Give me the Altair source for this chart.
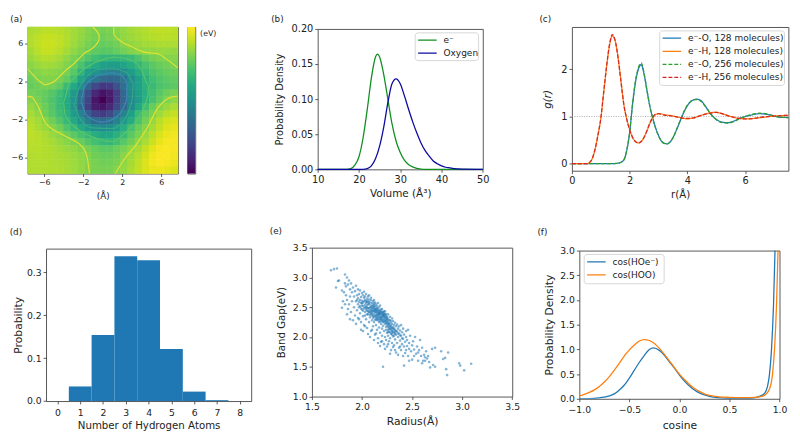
import altair as alt
import pandas as pd

FONT = "DejaVu Sans"
TXT = "#222222"

# (a) potential map, read from the colour field (rows top to bottom, columns left to right)
map_x = [-7.35, -6.62, -5.88, -5.15, -4.41, -3.68, -2.94, -2.21, -1.47, -0.74, 0, 0.74, 1.47, 2.21, 2.94, 3.68, 4.41, 5.15, 5.88, 6.62, 7.35]
map_y = [7.35, 6.62, 5.88, 5.15, 4.41, 3.68, 2.94, 2.21, 1.47, 0.74, 0, -0.74, -1.47, -2.21, -2.94, -3.68, -4.41, -5.15, -5.88, -6.62, -7.35]
map_rows = [
    [.22, .26, .30, .30, .28, .24, .18, .12, .04, -.02, -.05, -.02, .05, .12, .18, .22, .26, .30, .32, .32, .30],
    [.26, .32, .36, .36, .32, .26, .18, .10, .02, -.04, -.08, -.05, .02, .10, .15, .20, .24, .27, .29, .30, .28],
    [.25, .33, .38, .38, .33, .25, .15, .06, -.03, -.10, -.14, -.12, -.06, .03, .10, .14, .18, .20, .22, .23, .22],
    [.20, .30, .36, .35, .28, .20, .09, .00, -.10, -.18, -.22, -.20, -.14, -.06, .02, .06, .08, .10, .12, .12, .11],
    [.14, .22, .27, .26, .19, .09, -.02, -.14, -.26, -.37, -.47, -.50, -.50, -.46, -.42, -.28, -.13, -.05, -.01, .02, .04],
    [.06, .14, .18, .17, .11, .02, -.11, -.30, -.52, -.65, -.78, -.86, -.84, -.74, -.62, -.48, -.32, -.20, -.13, -.07, -.02],
    [-.02, .04, .08, .07, .03, -.05, -.22, -.52, -.80, -.98, -1.12, -1.22, -1.24, -1.08, -.86, -.62, -.42, -.28, -.20, -.14, -.10],
    [-.10, -.03, .02, .02, -.04, -.15, -.40, -.73, -1.10, -1.38, -1.55, -1.60, -1.55, -1.38, -1.08, -.78, -.55, -.37, -.27, -.20, -.16],
    [-.15, -.08, -.04, -.06, -.16, -.42, -.68, -1.05, -1.60, -1.95, -2.15, -2.10, -1.85, -1.45, -1.08, -.80, -.57, -.42, -.30, -.24, -.20],
    [-.06, -.10, -.15, -.23, -.38, -.58, -.88, -1.40, -1.90, -2.32, -2.52, -2.42, -2.08, -1.58, -1.12, -.82, -.60, -.38, -.22, -.10, -.03],
    [.03, -.04, -.16, -.28, -.44, -.64, -.95, -1.47, -2.02, -2.50, -2.68, -2.48, -2.05, -1.62, -1.15, -.85, -.58, -.33, -.15, .01, .08],
    [.12, .02, -.10, -.25, -.43, -.65, -.98, -1.55, -2.05, -2.42, -2.50, -2.32, -1.95, -1.55, -1.10, -.70, -.38, -.12, .03, .14, .22],
    [.20, .10, -.08, -.22, -.38, -.58, -.85, -1.22, -1.70, -2.00, -2.10, -1.95, -1.58, -1.20, -.80, -.42, -.18, -.02, .16, .28, .36],
    [.27, .18, .05, -.08, -.25, -.45, -.68, -1.00, -1.25, -1.50, -1.55, -1.45, -1.22, -.90, -.63, -.30, -.06, .12, .30, .42, .46],
    [.30, .22, .14, .03, -.08, -.27, -.46, -.68, -.87, -1.03, -1.10, -1.03, -.85, -.60, -.35, -.12, .03, .20, .36, .48, .52],
    [.32, .28, .22, .13, .05, -.07, -.20, -.33, -.45, -.62, -.70, -.70, -.58, -.42, -.20, -.03, .13, .30, .45, .55, .58],
    [.30, .28, .25, .20, .12, .05, -.03, -.13, -.25, -.35, -.45, -.48, -.37, -.22, -.08, .06, .22, .38, .52, .60, .60],
    [.28, .28, .26, .23, .18, .13, .09, .02, -.05, -.14, -.20, -.20, -.12, -.03, .08, .20, .36, .50, .60, .62, .60],
    [.26, .27, .26, .24, .21, .18, .14, .08, .02, -.08, -.12, -.12, -.06, .05, .16, .28, .43, .56, .62, .62, .58],
    [.25, .26, .25, .24, .22, .20, .16, .10, .03, -.04, -.08, -.07, -.02, .08, .20, .33, .47, .58, .62, .60, .55],
    [.24, .25, .24, .24, .23, .20, .16, .10, .02, -.03, -.05, -.04, .03, .12, .22, .35, .46, .54, .55, .52, .46],
]

# (a) contour traces
cont_top_left = [(-1.03, 7.7), (-.37, 6.85), (-.37, 6.4), (-.87, 5.65), (-1.87, 4.97), (-2.87, 3.94), (-3.87, 3.08), (-5.03, 1.95), (-5.87, 1.64), (-6.53, 2.05), (-7.2, 2.74), (-7.7, 3.32)]
cont_top_right = [(1.13, 7.7), (1.13, 7.02), (1.8, 6.27), (2.97, 5.65), (4.3, 5.07), (5.63, 4.9), (6.63, 4.28), (7.7, 3.42)]
cont_bot_left = [(-7.7, .41), (-7.3, .34), (-6.7, -.51), (-5.87, -2.4), (-4.7, -3.32), (-3.2, -4.11), (-2.03, -4.97), (-1.6, -6.0), (-1.37, -7.7)]
cont_bot_right = [(1.3, -7.7), (2.13, -6.34), (3.47, -4.62), (4.47, -3.08), (5.63, -.86), (6.8, .24), (7.7, .45)]
cont_outer = [(1.13, 4.55), (-.03, 4.28), (-1.2, 3.77), (-2.53, 2.74), (-3.53, 1.54), (-4.03, -.17), (-3.87, -1.54), (-2.53, -3.08), (-.7, -4.0), (.97, -4.35), (2.3, -3.42), (3.63, -1.88), (4.63, .51), (4.7, 1.54), (3.97, 3.25), (2.8, 4.28), (1.13, 4.55)]
cont_mid = [(1.13, 3.32), (-.37, 3.25), (-1.7, 2.4), (-2.53, 1.03), (-2.97, -.51), (-2.37, -1.88), (-1.03, -2.91), (.97, -2.98), (2.3, -1.88), (3.03, .17), (3.13, 1.88), (2.47, 2.91), (1.13, 3.32)]
cont_inner = [(.97, 2.9), (-.7, 2.5), (-1.87, 1.37), (-2.27, -.17), (-1.7, -1.54), (-.03, -2.3), (1.47, -1.71), (2.47, .17), (2.47, 1.7), (1.97, 2.57), (.97, 2.9)]

# (a) colour bar
cbar_ticks = [-2.5, -2.0, -1.5, -1.0, -0.5, 0.0]
viridis_stops = ["#440154", "#482475", "#414487", "#355f8d", "#2a788e", "#21918c", "#22a884", "#44bf70", "#7ad151", "#bddf26", "#fde725"]

# (b)
vol_e_x = [10, 17, 18, 19, 20, 21, 22, 23, 24, 24.5, 25, 26, 27, 28, 29, 30, 31, 32, 33, 34, 35, 36, 50]
vol_e_y = [0, 0, .001, .006, .018, .045, .085, .13, .16, .164, .16, .135, .10, .065, .04, .024, .013, .007, .0035, .0015, .0005, 0, 0]
vol_o_x = [10, 21, 22, 23, 24, 25, 26, 27, 28, 29, 30, 31, 32, 33, 34, 35, 36, 37, 38, 39, 40, 41, 42, 43, 45, 50]
vol_o_y = [0, 0, .001, .005, .015, .033, .06, .095, .122, .129, .122, .105, .086, .068, .052, .038, .027, .019, .012, .008, .005, .003, .002, .001, .0003, 0]
vol_names = ["e⁻", "Oxygen"]
vol_colors = ["#0f8f1f", "#0a0aa0"]

# (c)
rdf_o_r = [0, 1.4, 1.6, 1.7, 1.8, 1.9, 2.0, 2.1, 2.2, 2.3, 2.4, 2.5, 2.6, 2.7, 2.8, 2.9, 3.0, 3.1, 3.2, 3.3, 3.4, 3.5, 3.6, 3.7, 3.8, 3.9, 4.0, 4.1, 4.2, 4.3, 4.4, 4.5, 4.6, 4.7, 4.8, 4.9, 5.0, 5.2, 5.4, 5.6, 5.8, 6.0, 6.2, 6.5, 6.8, 7.0, 7.3, 7.5]
rdf_o_128 = [0, 0, .01, .03, .08, .28, .66, 1.25, 1.72, 2.0, 2.10, 1.9, 1.55, 1.22, .97, .76, .6, .48, .43, .42, .46, .55, .68, .83, .98, 1.12, 1.23, 1.31, 1.35, 1.37, 1.36, 1.32, 1.24, 1.15, 1.06, .99, .94, .88, .87, .9, .96, 1.0, 1.03, 1.06, 1.04, 1.01, .98, .98]
rdf_o_256 = [0, 0, .01, .03, .08, .29, .67, 1.27, 1.75, 2.03, 2.14, 1.92, 1.56, 1.22, .96, .75, .59, .48, .43, .42, .46, .55, .69, .84, .99, 1.13, 1.24, 1.31, 1.35, 1.36, 1.35, 1.31, 1.23, 1.15, 1.06, .99, .93, .87, .86, .89, .95, 1.0, 1.04, 1.07, 1.05, 1.01, .98, .97]
rdf_h_r = [0, .5, .6, .7, .8, .9, 1.0, 1.1, 1.2, 1.3, 1.4, 1.5, 1.6, 1.7, 1.8, 1.9, 2.0, 2.1, 2.2, 2.3, 2.4, 2.5, 2.6, 2.7, 2.8, 2.9, 3.0, 3.2, 3.5, 3.8, 4.0, 4.2, 4.5, 4.8, 5.0, 5.2, 5.5, 5.8, 6.0, 6.3, 6.6, 7.0, 7.5]
rdf_h_128 = [0, 0, .02, .1, .3, .6, .95, 1.5, 2.05, 2.5, 2.71, 2.6, 2.25, 1.75, 1.25, .95, .72, .56, .47, .44, .47, .56, .7, .85, .98, 1.04, 1.06, 1.04, 1.01, .97, .95, .97, 1.03, 1.08, 1.09, 1.06, 1.0, .96, .95, .96, .98, 1.01, 1.02]
rdf_h_256 = [0, 0, .02, .1, .3, .6, .96, 1.51, 2.06, 2.52, 2.74, 2.61, 2.24, 1.74, 1.25, .94, .72, .56, .47, .44, .47, .56, .7, .86, .98, 1.05, 1.06, 1.03, 1.01, .97, .96, .97, 1.03, 1.07, 1.09, 1.06, 1.0, .96, .95, .96, .99, 1.01, 1.03]
rdf_names = ["e⁻-O, 128 molecules)", "e⁻-H, 128 molecules)", "e⁻-O, 256 molecules)", "e⁻-H, 256 molecules)"]
rdf_colors = ["#1f77b4", "#ff7f0e", "#2ca02c", "#d62728"]
rdf_dash = [[1, 0], [1, 0], [4, 2], [4, 2]]

# (d)
h_counts = [0, 1, 2, 3, 4, 5, 6, 7, 8]
h_probs = [0, .034, .154, .337, .328, .121, .022, .002, 0]

# (e)
scatter_points = [
    (1.69, 3.12), (1.72, 3.14), (1.75, 3.15), (1.74, 2.83), (1.76, 2.94), (1.77, 2.95), (1.83, 3.05), (1.85, 3.0), (1.80, 2.78), (1.81, 2.6),
    (1.80, 2.49), (1.82, 2.75), (1.83, 2.9), (1.84, 2.85), (1.85, 2.62), (1.86, 2.47), (1.84, 2.7), (1.87, 2.95), (1.88, 2.8), (1.86, 2.88),
    (1.87, 2.55), (1.88, 2.68), (1.83, 2.55), (1.89, 2.42), (1.89, 2.9), (1.90, 2.75), (1.90, 2.6), (1.91, 2.83), (1.92, 2.5), (1.92, 2.68),
    (1.93, 2.77), (1.93, 2.36), (1.94, 2.86), (1.94, 2.6), (1.95, 2.7), (1.95, 2.45), (1.96, 2.55), (1.96, 2.8), (1.96, 2.65), (1.97, 2.3),
    (1.97, 2.72), (1.97, 2.5), (1.98, 2.62), (1.98, 2.4), (1.98, 2.78), (1.99, 2.57), (1.99, 2.67), (1.99, 2.25), (2.00, 2.74), (2.00, 2.46),
    (2.00, 2.61), (2.00, 2.53), (2.01, 2.7), (2.01, 2.35), (2.01, 2.58), (2.02, 2.66), (2.02, 2.48), (2.02, 2.2), (2.02, 2.76), (2.03, 2.54),
    (2.03, 2.62), (2.03, 2.42), (2.03, 2.68), (2.04, 2.3), (2.04, 2.57), (2.04, 2.5), (2.04, 2.72), (2.05, 2.64), (2.05, 2.44), (2.05, 2.15),
    (2.05, 2.59), (2.05, 2.53), (2.06, 2.68), (2.06, 2.38), (2.06, 2.48), (2.06, 2.6), (2.07, 2.55), (2.07, 2.25), (2.07, 2.63), (2.07, 2.42),
    (2.07, 2.7), (2.08, 2.5), (2.08, 2.58), (2.08, 2.33), (2.08, 2.45), (2.09, 2.62), (2.09, 2.53), (2.09, 2.1), (2.09, 2.4), (2.09, 2.66),
    (2.10, 2.47), (2.10, 2.57), (2.10, 2.28), (2.10, 2.36), (2.10, 2.51), (2.11, 2.6), (2.11, 2.43), (2.11, 2.18), (2.11, 2.54), (2.11, 2.32),
    (2.12, 2.49), (2.12, 2.56), (2.12, 2.39), (2.12, 2.62), (2.12, 2.25), (2.13, 2.45), (2.13, 2.52), (2.13, 2.04), (2.13, 2.35), (2.13, 2.58),
    (2.14, 2.41), (2.14, 2.48), (2.14, 2.3), (2.14, 2.55), (2.14, 2.2), (2.15, 2.44), (2.15, 2.37), (2.15, 2.52), (2.15, 2.12), (2.15, 2.28),
    (2.16, 2.47), (2.16, 2.4), (2.16, 2.33), (2.16, 2.57), (2.16, 1.98), (2.17, 2.43), (2.17, 2.5), (2.17, 2.25), (2.17, 2.36), (2.17, 2.16),
    (2.18, 2.3), (2.18, 2.45), (2.18, 2.39), (2.18, 2.07), (2.18, 2.53), (2.19, 2.34), (2.19, 2.42), (2.19, 2.22), (2.19, 1.92), (2.19, 2.28),
    (2.20, 2.38), (2.20, 2.47), (2.20, 2.14), (2.20, 2.31), (2.20, 2.02), (2.21, 2.35), (2.21, 2.42), (2.21, 2.25), (2.21, 1.5), (2.21, 2.19),
    (2.22, 2.29), (2.22, 2.39), (2.22, 2.1), (2.22, 2.33), (2.22, 1.88), (2.23, 2.22), (2.23, 2.43), (2.23, 2.27), (2.23, 2.0), (2.23, 2.35),
    (2.24, 2.17), (2.24, 2.31), (2.24, 2.38), (2.24, 1.95), (2.24, 2.24), (2.25, 2.07), (2.25, 2.28), (2.25, 2.34), (2.25, 2.2), (2.25, 1.84),
    (2.26, 2.12), (2.26, 2.25), (2.26, 2.31), (2.26, 2.02), (2.26, 2.38), (2.27, 2.18), (2.27, 2.28), (2.27, 1.93), (2.27, 2.09), (2.28, 2.23),
    (2.28, 2.34), (2.28, 2.14), (2.28, 1.98), (2.29, 2.05), (2.29, 2.26), (2.29, 2.19), (2.29, 1.78), (2.30, 2.1), (2.30, 2.31), (2.30, 2.22),
    (2.30, 1.9), (2.31, 2.16), (2.31, 2.01), (2.31, 2.27), (2.32, 2.07), (2.32, 2.2), (2.32, 1.86), (2.33, 2.12), (2.33, 2.24), (2.33, 1.96),
    (2.34, 2.04), (2.34, 2.18), (2.34, 1.74), (2.35, 2.09), (2.35, 2.21), (2.35, 1.9), (2.36, 2.14), (2.36, 2.0), (2.37, 2.18), (2.37, 1.82),
    (2.37, 2.06), (2.38, 1.94), (2.38, 2.11), (2.39, 2.02), (2.39, 2.2), (2.39, 1.78), (2.40, 1.88), (2.40, 2.08), (2.41, 1.97), (2.41, 2.14),
    (2.42, 1.52), (2.42, 1.84), (2.42, 2.04), (2.43, 1.92), (2.43, 1.73), (2.44, 2.0), (2.44, 2.1), (2.45, 1.85), (2.45, 1.95), (2.46, 2.12),
    (2.46, 1.68), (2.47, 1.8), (2.47, 1.9), (2.48, 2.02), (2.49, 1.76), (2.50, 1.86), (2.50, 1.62), (2.51, 1.93), (2.52, 1.79), (2.53, 2.0),
    (2.54, 1.72), (2.55, 1.84), (2.56, 1.6), (2.57, 1.78), (2.58, 1.95), (2.59, 1.68), (2.60, 1.82), (2.61, 1.6), (2.62, 1.7), (2.63, 1.66),
    (2.64, 1.76), (2.65, 1.64), (2.66, 1.68), (2.67, 1.58), (2.68, 1.49), (2.70, 1.8), (2.71, 1.53), (2.73, 1.82), (2.73, 1.5), (2.79, 1.76),
    (2.81, 1.63), (2.83, 1.65), (2.84, 1.46), (2.85, 1.36), (2.86, 1.74), (2.97, 1.56), (2.98, 1.52), (3.02, 1.44), (3.09, 1.55),
    (1.98, 2.52), (2.02, 2.6), (2.04, 2.46), (2.05, 2.38), (2.06, 2.55), (2.08, 2.41), (2.10, 2.43), (2.11, 2.5), (2.12, 2.34), (2.13, 2.47),
    (2.14, 2.37), (2.15, 2.48), (2.16, 2.29), (2.17, 2.4), (2.18, 2.34), (2.19, 2.46), (2.20, 2.27), (2.21, 2.37), (2.22, 2.43), (2.23, 2.31),
    (2.24, 2.27), (2.25, 2.24), (2.26, 2.17), (2.27, 2.22), (2.28, 2.08), (2.29, 2.12), (2.30, 2.16), (2.31, 2.09), (2.32, 2.14), (2.33, 2.05),
    (1.95, 2.62), (1.97, 2.59), (1.99, 2.48), (2.01, 2.52), (2.03, 2.36), (2.07, 2.48), (2.09, 2.44), (2.12, 2.44), (2.15, 2.32), (2.18, 2.26),
    (2.20, 2.42), (2.22, 2.36), (2.24, 2.12), (2.26, 2.08), (2.28, 2.28), (2.30, 2.04), (2.34, 2.1), (2.36, 2.06), (2.38, 2.03), (2.40, 1.98),
    (1.85, 2.38), (1.88, 2.3), (1.91, 2.28), (1.94, 2.22), (1.96, 2.32), (1.99, 2.12), (2.01, 2.1), (2.03, 2.18), (2.06, 2.05), (2.08, 2.0),
    (2.10, 2.12), (2.12, 1.95), (2.14, 2.06), (2.16, 1.9), (2.18, 1.85), (2.20, 1.93), (2.23, 1.8), (2.26, 1.88), (2.28, 1.72), (2.31, 1.83),
    (2.33, 1.78), (2.36, 1.7), (2.38, 1.84), (2.41, 1.68), (2.44, 1.78), (2.47, 1.6), (2.52, 1.68), (2.56, 1.74), (2.60, 1.56), (2.63, 1.6),
    (2.00, 2.57), (2.01, 2.44), (2.03, 2.5), (2.04, 2.6), (2.05, 2.49), (2.06, 2.43), (2.07, 2.58), (2.08, 2.37), (2.09, 2.49), (2.10, 2.39),
    (2.11, 2.46), (2.11, 2.36), (2.12, 2.52), (2.13, 2.42), (2.13, 2.29), (2.14, 2.45), (2.14, 2.34), (2.15, 2.41), (2.16, 2.36), (2.16, 2.44),
    (2.17, 2.31), (2.17, 2.39), (2.18, 2.42), (2.19, 2.38), (2.19, 2.31), (2.20, 2.34), (2.21, 2.29), (2.21, 2.4), (2.22, 2.25), (2.23, 2.38),
    (2.24, 2.34), (2.25, 2.3), (2.26, 2.22), (2.27, 2.14), (2.28, 2.19), (2.29, 2.15), (2.30, 2.07), (2.31, 2.13), (2.32, 2.02), (2.33, 2.09),
]

# (f)
cos_x_e = [-1, -.9, -.8, -.7, -.65, -.6, -.55, -.5, -.45, -.4, -.35, -.3, -.26, -.2, -.15, -.1, -.05, 0, .05, .1, .15, .2, .25, .3, .4, .5, .6, .7, .75, .8, .85, .88, .9, .92, .94, .955, .97]
cos_y_e = [0, .002, .02, .06, .1, .18, .28, .42, .58, .74, .88, 1.0, 1.03, .98, .88, .75, .62, .48, .36, .26, .18, .12, .08, .05, .02, .008, .005, .01, .02, .05, .11, .25, .5, 1.0, 1.9, 3.0, 4.5]
cos_x_o = [-1, -.95, -.9, -.85, -.8, -.75, -.7, -.65, -.6, -.55, -.5, -.45, -.4, -.35, -.3, -.25, -.2, -.15, -.1, -.05, 0, .05, .1, .15, .2, .25, .3, .4, .5, .6, .7, .8, .85, .9, .93, .95, .97, .985, .995]
cos_y_o = [.06, .09, .13, .18, .25, .34, .45, .58, .72, .87, .99, 1.09, 1.17, 1.2, 1.18, 1.12, 1.02, .9, .77, .63, .5, .39, .29, .21, .15, .1, .07, .04, .03, .025, .025, .04, .07, .2, .5, 1.0, 1.9, 3.0, 4.0]
cos_names = ["cos(HOe⁻)", "cos(HOO)"]
cos_colors = ["#1f77b4", "#ff7f0e"]

one = pd.DataFrame({"a": [0]})


def ax(title=None, values=None, fmt=None, size=10, **kw):
    opts = dict(title=title, labelFontSize=size, tickSize=3, tickWidth=0.8, tickColor="#333333",
                labelColor=TXT, titleColor=TXT, labelPadding=2, grid=False, domain=False,
                labelFont=FONT, titleFont=FONT, titleFontWeight="normal", labelFlush=False, labelOverlap=False)
    if values is not None:
        opts["values"] = values
    if fmt is not None:
        opts["format"] = fmt
    opts.update(kw)
    return alt.Axis(**opts)


def lab(text, dx, offset):
    return alt.TitleParams(text=text, anchor="start", frame="group", dx=dx, offset=offset, fontSize=9, font=FONT,
                           fontWeight="normal", color=TXT)


def key_box(x, y, w, h, names, colors, dashes=None, line=19, gap=7, row0=7.5, step=13.4, sw=1.3, size=9.2):
    """A matplotlib-like legend box inside a panel."""
    out = [alt.Chart(one).mark_rect(fill="white", stroke="#cccccc", strokeWidth=0.8, cornerRadius=3).encode(
        x=alt.value(x), x2=alt.value(x + w), y=alt.value(y), y2=alt.value(y + h))]
    for i, name in enumerate(names):
        yy = y + row0 + step * i
        dash = dashes[i] if dashes else [1, 0]
        out.append(alt.Chart(one).mark_rule(color=colors[i], strokeWidth=sw, strokeDash=dash).encode(
            x=alt.value(x + 3), x2=alt.value(x + 3 + line), y=alt.value(yy)))
        out.append(alt.Chart(one).mark_text(text=name, fontSize=size, font=FONT, color=TXT, align="left", baseline="middle").encode(
            x=alt.value(x + 3 + line + gap), y=alt.value(yy)))
    return out


# --- (a)
map_df = pd.DataFrame(
    [{"x": x, "y": y, "v": v} for y, row in zip(map_y, map_rows) for x, v in zip(map_x, row)]
)
CELL = 0.3675
hm = alt.Chart(map_df).transform_calculate(
    x0=f"datum.x-{CELL}", x1=f"datum.x+{CELL}", y0=f"datum.y-{CELL}", y1=f"datum.y+{CELL}"
).mark_rect(strokeWidth=0.6).encode(
    x=alt.X("x0:Q", scale=alt.Scale(domain=[-7.72, 7.72], nice=False, zero=False),
            axis=ax("(Å)", [-6, -4, -2, 0, 2, 4, 6], "d", 8, titlePadding=5.5, titleFontSize=9)),
    x2="x1:Q",
    y=alt.Y("y0:Q", scale=alt.Scale(domain=[-7.72, 7.72], nice=False, zero=False),
            axis=ax(None, [-6, -4, -2, 0, 2, 4, 6], "d", 8)),
    y2="y1:Q",
    color=alt.Color("v:Q", scale=alt.Scale(scheme="viridis", domain=[-2.68, 0.64]), legend=None),
    stroke=alt.Stroke("v:Q", scale=alt.Scale(scheme="viridis", domain=[-2.68, 0.64]), legend=None),
)
cont_rows = []
for name, col, pts in [("a", "#e6e230", cont_top_left), ("b", "#e6e230", cont_top_right), ("c", "#e6e230", cont_bot_left),
                       ("d", "#e6e230", cont_bot_right), ("e", "#5cc468", cont_outer), ("f", "#35a888", cont_mid),
                       ("g", "#3f88bb", cont_inner)]:
    for i, (px, py) in enumerate(pts):
        cont_rows.append({"x": px, "y": py, "piece": name, "i": i, "col": col})
cont = alt.Chart(pd.DataFrame(cont_rows)).mark_line(interpolate="monotone", strokeWidth=1.1).encode(
    x=alt.X("x:Q"),
    y=alt.Y("y:Q"),
    detail="piece:N",
    order="i:Q",
    stroke=alt.Stroke("col:N", scale=None, legend=None),
)
panel_a = alt.layer(hm, cont).resolve_scale(stroke="independent").properties(
    width=154.3, height=150.3, title=lab("(a)", -17.7, 1.4))

# colour bar
cbar_scale = alt.Scale(domain=[-2.68, 0.64], nice=False, zero=False)
cbar_df = pd.DataFrame({"lo": [-2.68], "hi": [0.64]})
stops = [alt.GradientStop(offset=i / (len(viridis_stops) - 1), color=c) for i, c in enumerate(viridis_stops)]
cbar_rect = alt.Chart(cbar_df).mark_rect(
    color=alt.LinearGradient(gradient="linear", stops=stops, x1=0, x2=0, y1=1, y2=0)
).encode(
    y=alt.Y("lo:Q", scale=cbar_scale,
            axis=ax(None, cbar_ticks, ".1f", 8, orient="right")),
    y2="hi:Q",
)
cbar_txt = alt.Chart(pd.DataFrame({"t": ["(eV)"], "v": [0.49]})).mark_text(
    align="left", baseline="middle", fontSize=8, font=FONT, color=TXT, clip=False, dx=13
).encode(y=alt.Y("v:Q", scale=cbar_scale, axis=None), x=alt.value(0), text="t:N")
cbar = alt.layer(cbar_rect, cbar_txt).properties(width=8, height=150.3)

# --- (b)
vol_df = pd.concat([
    pd.DataFrame({"v": vol_e_x, "p": vol_e_y, "s": vol_names[0]}),
    pd.DataFrame({"v": vol_o_x, "p": vol_o_y, "s": vol_names[1]}),
])
vol_lines = alt.Chart(vol_df).mark_line(interpolate="monotone", strokeWidth=1.3).encode(
    x=alt.X("v:Q", scale=alt.Scale(domain=[10, 50], nice=False),
            axis=ax("Volume (Å³)", [10, 20, 30, 40, 50], "d", 10, titleFontSize=10.7, titlePadding=4.4)),
    y=alt.Y("p:Q", scale=alt.Scale(domain=[0, 0.2], nice=False),
            axis=ax("Probability Density", [0, .05, .1, .15, .2], ".2f", 10, titleFontSize=10, titlePadding=6.5)),
    color=alt.Color("s:N", scale=alt.Scale(domain=vol_names, range=vol_colors), legend=None),
)
panel_b = alt.layer(vol_lines, *key_box(100, 4, 65, 28.5, vol_names, vol_colors)).properties(
    width=169.3, height=144, title=lab("(b)", -47.7, 0.4))

# --- (c)
rdf_df = pd.concat([
    pd.DataFrame({"r": rdf_o_r, "g": rdf_o_128, "s": rdf_names[0], "k": 0}),
    pd.DataFrame({"r": rdf_h_r, "g": rdf_h_128, "s": rdf_names[1], "k": 1}),
    pd.DataFrame({"r": rdf_o_r, "g": rdf_o_256, "s": rdf_names[2], "k": 2}),
    pd.DataFrame({"r": rdf_h_r, "g": rdf_h_256, "s": rdf_names[3], "k": 3}),
])
rdf_x = alt.Scale(domain=[0, 7.5], nice=False)
rdf_y = alt.Scale(domain=[-0.15, 2.9], nice=False, zero=False)
rdf_lines = alt.Chart(rdf_df).mark_line(interpolate="monotone", strokeWidth=1.3).encode(
    x=alt.X("r:Q", scale=rdf_x, axis=ax("r(Å)", [0, 2, 4, 6], "d", 10, titleFontSize=10.5, titlePadding=4.5)),
    y=alt.Y("g:Q", scale=rdf_y, axis=ax("g(r)", [0, 1, 2], "d", 10, titleFontSize=10.5, titlePadding=9, titleFontStyle="italic")),
    color=alt.Color("s:N", scale=alt.Scale(domain=rdf_names, range=rdf_colors), legend=None),
    strokeDash=alt.StrokeDash("s:N", scale=alt.Scale(domain=rdf_names, range=rdf_dash), legend=None),
    order="k:Q",
)
rdf_base = alt.Chart(pd.DataFrame({"r": [0, 7.5], "g": [1, 1]})).mark_line(
    color="#999999", strokeWidth=0.8, strokeDash=[1, 1.5]
).encode(x=alt.X("r:Q", scale=rdf_x), y=alt.Y("g:Q", scale=rdf_y))
panel_c = alt.layer(rdf_base, rdf_lines, *key_box(90, 4, 128, 56, rdf_names, rdf_colors, rdf_dash)).properties(
    width=222, height=147.4, title=lab("(c)", -33.3, 2.9))

# --- (d)
panel_d = alt.Chart(pd.DataFrame({"n": h_counts, "p": h_probs})).transform_calculate(
    lo="datum.n-0.5", hi="datum.n+0.5"
).mark_rect(color="#1f77b4").encode(
    x=alt.X("lo:Q", scale=alt.Scale(domain=[-0.5, 8.5], nice=False, zero=False),
            axis=ax("Number of Hydrogen Atoms", list(range(9)), "d", 9.5, titleFontSize=10.5, titlePadding=3.7, labelPadding=4)),
    x2="hi:Q",
    y=alt.Y("p:Q", scale=alt.Scale(domain=[0, 0.355], nice=False),
            axis=ax("Probability", [0, .1, .2, .3], ".1f", 9.5, titleFontSize=11, titlePadding=3)),
).properties(width=210.4, height=156.3, title=lab("(d)", -37.3, 11.7))

# --- (e)
panel_e = alt.Chart(pd.DataFrame(scatter_points, columns=["radius", "gap"])).mark_circle(
    size=7, color="#1f77b4", opacity=0.55
).encode(
    x=alt.X("radius:Q", scale=alt.Scale(domain=[1.5, 3.5], nice=False, zero=False),
            axis=ax("Radius(Å)", [1.5, 2, 2.5, 3, 3.5], ".1f", 9.5, titleFontSize=11, titlePadding=5.2)),
    y=alt.Y("gap:Q", scale=alt.Scale(domain=[1, 3.5], nice=False, zero=False),
            axis=ax("Band Gap(eV)", [1, 1.5, 2, 2.5, 3, 3.5], ".1f", 9.5, titleFontSize=10.5, titlePadding=6)),
).properties(width=205.4, height=152.7, title=lab("(e)", -43.3, 6.5))

# --- (f)
cos_df = pd.concat([
    pd.DataFrame({"c": cos_x_e, "p": cos_y_e, "s": cos_names[0]}),
    pd.DataFrame({"c": cos_x_o, "p": cos_y_o, "s": cos_names[1]}),
])
cos_lines = alt.Chart(cos_df).mark_line(interpolate="monotone", strokeWidth=1.3, clip=True).encode(
    x=alt.X("c:Q", scale=alt.Scale(domain=[-1, 1], nice=False, zero=False),
            axis=ax("cosine", [-1, -.5, 0, .5, 1], ".1f", 9.5, titleFontSize=11, titlePadding=6.4, labelPadding=3)),
    y=alt.Y("p:Q", scale=alt.Scale(domain=[0, 3], nice=False),
            axis=ax("Probability Density", [0, .5, 1, 1.5, 2, 2.5, 3], ".1f", 9.5, titleFontSize=11, titlePadding=5)),
    color=alt.Color("s:N", scale=alt.Scale(domain=cos_names, range=cos_colors), legend=None),
)
panel_f = alt.layer(cos_lines, *key_box(5, 4, 82, 30, cos_names, cos_colors)).properties(
    width=205.3, height=152, title=lab("(f)", -43, 9))


def spacer(w, h):
    return alt.Chart(one).mark_rule(opacity=0).encode(
        x=alt.value(0), y=alt.value(0), y2=alt.value(0)
    ).properties(width=w, height=h, view=alt.ViewBackground(stroke=None))


def top(c):
    # a zero-height row over the panel: panels of a row then line up by their label, not by their plot
    return alt.vconcat(spacer(1, 1), c, spacing=0)


# gaps between the panels' outer bounds
GAP_A_CB, GAP_CB_B, GAP_B_C = 6, 53.6, 50.3
GAP_D_E, GAP_E_F = 17.7, 15.9
GAP_ROWS = 25.3

first = alt.hconcat(
    spacer(1, 1),
    alt.hconcat(
        alt.hconcat(top(alt.hconcat(panel_a, cbar, spacing=GAP_A_CB)), top(panel_b), spacing=GAP_CB_B),
        top(panel_c), spacing=GAP_B_C,
    ),
    spacing=0,
)
second = alt.hconcat(
    spacer(1, 1),
    alt.hconcat(
        alt.hconcat(top(panel_d), top(panel_e), spacing=GAP_D_E),
        top(panel_f), spacing=GAP_E_F,
    ),
    spacing=0,
)

chart = alt.vconcat(first, second, spacing=GAP_ROWS).properties(
    padding=0
).configure_view(stroke="#555555", strokeWidth=1)

chart.save("out.html", embed_options={"renderer": "svg", "actions": False})
